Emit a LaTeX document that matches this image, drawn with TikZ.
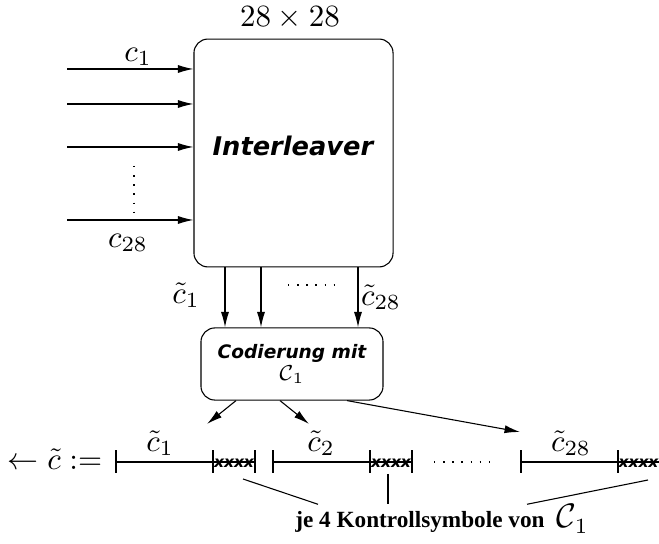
\documentclass[tikz,border=0pt]{standalone}
\usepackage{fontspec}
\usepackage{amsmath}
\newfontfamily\blockfont{DejaVu Sans}
\newfontfamily\notefont{Liberation Serif}
\usetikzlibrary{arrows.meta,positioning,calc}

\begin{document}
\begin{tikzpicture}
        [x=0.323pt, y=-0.323pt, line width=0.35pt,
         >={Latex[length=5pt,width=2.6pt]},
         block/.style={draw, rounded corners=4.5pt, inner sep=0pt},
         blocktext/.style={font=\blockfont\bfseries\itshape\fontsize{#1}{7.2}\selectfont},
         dotrow/.style={dash pattern=on 0.45pt off 2.5pt},
         checks/.style={inner sep=0pt, font=\blockfont\bfseries\itshape\fontsize{5}{5}\selectfont}]

        \useasboundingbox (0,0) rectangle (659,544);

        % interleaver
        \node [block, minimum width=64.3pt, minimum height=73.6pt] (il) at (293.5,153) {};
        \node [blocktext=8.3] (iltext) at (293,146) {Interleaver};
        \node (size) at (290,18) {$28 \times 28$};

        % inputs
        \foreach \y/\n in {69/1, 104/2, 147/3, 220/4}
            \coordinate (in\n) at (67,\y);
        \foreach \n in {1,...,4}
            \draw[->] (in\n) -- (in\n -| il.west);
        \node (c1) at (138,57) {$c_1$};
        \node (c28) at (128,243) {$c_{28}$};
        \draw[dotrow] (134,166) -- (134,212);

        % coder
        \node [block, minimum width=58.8pt, minimum height=23.3pt, align=center,
               blocktext=6] (cod) at (292,364)
              {Codierung mit\\{\fontsize{7.5}{7.2}\selectfont$\mathcal{C}_1$}};

        \foreach \x/\n in {225/1, 261/2, 358/3}
            \coordinate (d\n) at (\x,0);
        \foreach \n in {1,2,3}
            \draw[->] (il.south -| d\n) -- (cod.north -| d\n);
        \draw[dotrow] (288,285) -- (342,285);
        \node (ct1) at (186,295) {$\tilde{c}_1$};
        \node (ct28) at (381,297) {$\tilde{c}_{28}$};

        % code word
        \node [anchor=base, inner sep=0pt] (cdef) at (55,470) {$\leftarrow \tilde{c} :=$};
        \foreach \n/\x in {s1a/116, s1b/213, s1c/255, s2a/273, s2b/370, s2c/412,
                           s3a/521, s3b/618, s3c/659}
            \coordinate (\n) at (\x,462);
        \draw (s1a) -- (s1c);
        \draw (s2a) -- (s2c);
        \draw (s3a) -- (s3c);
        \foreach \p in {s1a,s1b,s1c,s2a,s2b,s2c,s3a,s3b}
            \draw ($(\p)+(0,-11.5)$) -- ($(\p)+(0,11.5)$);
        \node [checks] (x1) at ($(s1b)!0.5!(s1c)+(0,1)$) {xxxx};
        \node [checks] (x2) at ($(s2b)!0.5!(s2c)+(0,1)$) {xxxx};
        \node [checks] (x3) at ($(s3b)!0.5!(s3c)+(0,1)$) {xxxx};
        \draw[dotrow] (434,462) -- (497,462);
        \node (w1) at (160,443) {$\tilde{c}_1$};
        \node (w2) at (321,443) {$\tilde{c}_2$};
        \node (w28) at (571,443) {$\tilde{c}_{28}$};

        \coordinate (t1) at (207,424);
        \coordinate (t2) at (309,424);
        \coordinate (t3) at (520,432);
        \draw[->] (cod.south -| 236,0) -- (t1);
        \draw[->] (cod.south -| 280,0) -- (t2);
        \draw[->] (cod.south -| 347,0) -- (t3);

        % note
        \node [anchor=base, inner sep=0pt, font=\notefont\bfseries\fontsize{7.5}{9}\selectfont]
              (note) at (442,528) {je 4 Kontrollsymbole von\hspace{4pt}{\fontsize{10.5}{12}\selectfont$\mathcal{C}_1$}};
        \coordinate (n1) at (243,479);
        \coordinate (n2) at (388,474);
        \coordinate (n3) at (648,480);
        \draw (n1) -- (note.north -| 318,0);
        \draw (n2) -- (note.north -| 388,0);
        \draw (n3) -- (note.north -| 527,0);
\end{tikzpicture}
\end{document}
